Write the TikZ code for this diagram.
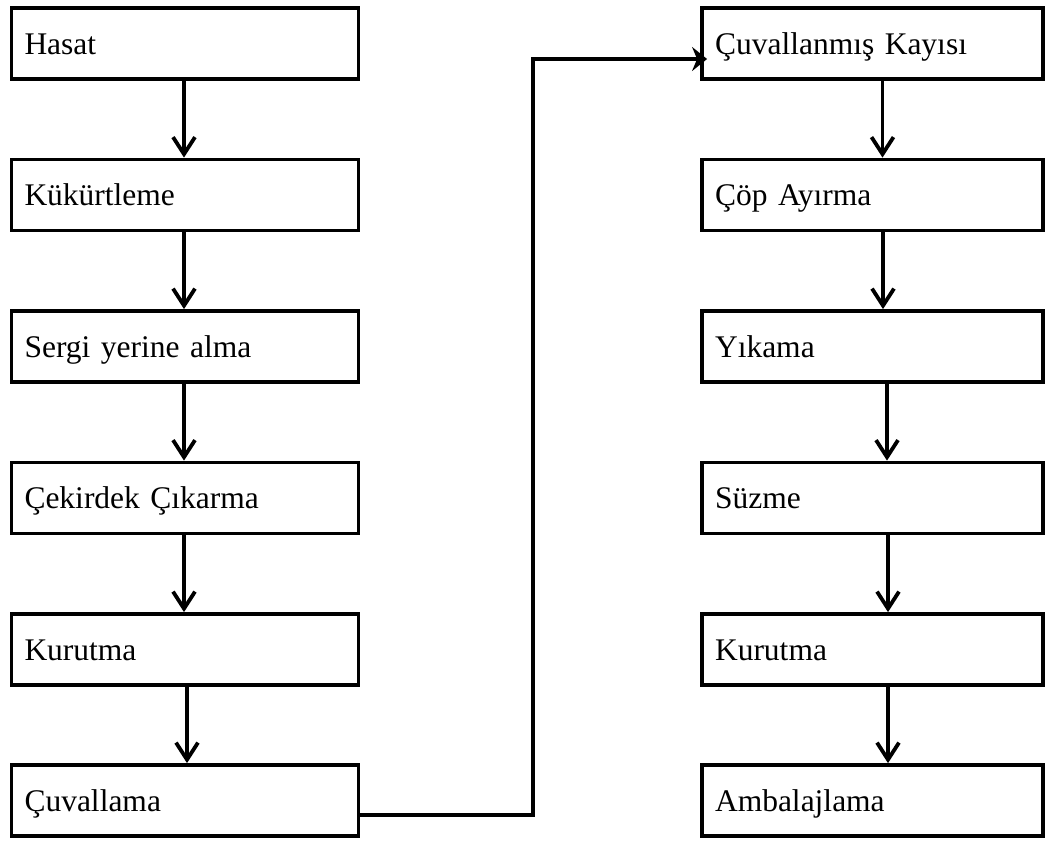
\documentclass[tikz,border=0pt]{standalone}
\usepackage{fontspec}
\setmainfont{Liberation Serif}
\usetikzlibrary{arrows.meta}
\begin{document}
\begin{tikzpicture}[x=1pt,y=-1pt,
  box/.style={draw, line width=3.8pt, rectangle, minimum height=71pt,
    inner xsep=13pt, align=left, text height=21pt, text depth=0pt,
    font=\fontsize{31.5}{36}\selectfont},
  lbox/.style={box, text width=321pt},
  rbox/.style={box, text width=315pt},
  flow/.style={line width=3.8pt, -{Straight Barb[length=17pt,width=22pt]}},
  conn/.style={line width=3.8pt, -{Stealth[length=15pt,width=24pt,inset=5pt]}}]
\useasboundingbox (0,0) rectangle (1048,841);
\node[lbox] (l1) at (185,43.5) {Hasat};
\node[lbox] (l2) at (185,195) {Kükürtleme};
\node[lbox] (l3) at (185,346.5) {Sergi yerine alma};
\node[lbox] (l4) at (185,498) {Çekirdek Çıkarma};
\node[lbox] (l5) at (185,649.5) {Kurutma};
\node[lbox] (l6) at (185,800.5) {Çuvallama};
\node[rbox] (r1) at (872.5,43.5) {Çuvallanmış Kayısı};
\node[rbox] (r2) at (872.5,195) {Çöp Ayırma};
\node[rbox] (r3) at (872.5,346.5) {Yıkama};
\node[rbox] (r4) at (872.5,498) {Süzme};
\node[rbox] (r5) at (872.5,649.5) {Kurutma};
\node[rbox] (r6) at (872.5,800.5) {Ambalajlama};
\draw[flow] ([xshift=-1pt]l1.south) -- ([xshift=-1pt]l2.north);
\draw[flow] ([xshift=-1pt]l2.south) -- ([xshift=-1pt]l3.north);
\draw[flow] ([xshift=-1pt]l3.south) -- ([xshift=-1pt]l4.north);
\draw[flow] ([xshift=-1pt]l4.south) -- ([xshift=-1pt]l5.north);
\draw[flow] ([xshift=2pt]l5.south) -- ([xshift=2pt]l6.north);
\draw[flow] ([xshift=10pt]r1.south) -- ([xshift=10pt]r2.north);
\draw[flow] ([xshift=10.5pt]r2.south) -- ([xshift=10.5pt]r3.north);
\draw[flow] ([xshift=14.5pt]r3.south) -- ([xshift=14.5pt]r4.north);
\draw[flow] ([xshift=15.5pt]r4.south) -- ([xshift=15.5pt]r5.north);
\draw[flow] ([xshift=15.5pt]r5.south) -- ([xshift=15.5pt]r6.north);
\coordinate (bend) at (533,59);
\draw[conn, shorten >=-7pt] ([yshift=-14.5pt]l6.east) -| (bend) -- ([yshift=-15.5pt]r1.west);
\end{tikzpicture}
\end{document}
